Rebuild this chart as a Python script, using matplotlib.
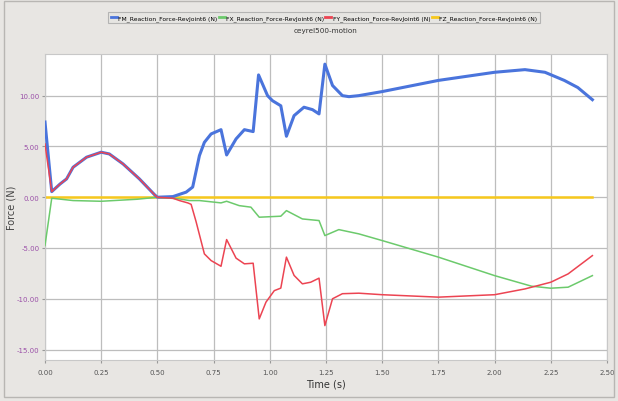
import matplotlib
matplotlib.use("Agg")
import matplotlib.pyplot as plt
from matplotlib.patches import Rectangle

# FM (magnitude) - azul
t_fm = [0.0, 0.03, 0.067, 0.096, 0.125, 0.185, 0.25, 0.286, 0.347, 0.42, 0.488, 0.5,
        0.569, 0.628, 0.657, 0.687, 0.709, 0.739, 0.783, 0.808, 0.85, 0.887, 0.926,
        0.95, 0.99, 1.012, 1.049, 1.074, 1.108, 1.152, 1.19, 1.219, 1.245, 1.279,
        1.323, 1.352, 1.396, 1.5, 1.75, 2.0, 2.135, 2.224, 2.31, 2.37, 2.435]
fm = [7.4, 0.55, 1.3, 1.8, 2.95, 3.94, 4.43, 4.26, 3.28, 1.8, 0.23, 0.0,
      0.06, 0.5, 1.0, 4.1, 5.4, 6.23, 6.65, 4.16, 5.74, 6.65, 6.46,
      12.04, 10.0, 9.5, 9.0, 6.0, 8.03, 8.86, 8.62, 8.2, 13.1, 11.0,
      10.0, 9.9, 10.0, 10.4, 11.5, 12.3, 12.56, 12.3, 11.5, 10.8, 9.6]

# FX - verde
t_fx = [0.0, 0.03, 0.125, 0.25, 0.41, 0.5, 0.598, 0.642, 0.687, 0.783, 0.808, 0.864,
        0.916, 0.953, 1.049, 1.074, 1.145, 1.219, 1.245, 1.307, 1.396, 1.5, 1.75,
        2.0, 2.164, 2.25, 2.327, 2.435]
fx = [-4.76, -0.1, -0.33, -0.4, -0.2, 0.0, -0.17, -0.33, -0.33, -0.56, -0.4, -0.83,
      -0.98, -1.97, -1.87, -1.32, -2.14, -2.3, -3.78, -3.19, -3.61, -4.27, -5.9,
      -7.72, -8.76, -8.96, -8.86, -7.72]

# FY - rojo
t_fy = [0.0, 0.03, 0.067, 0.096, 0.125, 0.185, 0.25, 0.286, 0.347, 0.42, 0.488, 0.5,
        0.569, 0.598, 0.635, 0.65, 0.672, 0.709, 0.739, 0.783, 0.808, 0.85, 0.887,
        0.926, 0.953, 0.983, 1.02, 1.049, 1.074, 1.108, 1.145, 1.182, 1.219, 1.245,
        1.279, 1.323, 1.396, 1.5, 1.75, 2.0, 2.135, 2.25, 2.327, 2.435]
fy = [5.25, 0.55, 1.3, 1.8, 2.95, 3.94, 4.43, 4.26, 3.28, 1.8, 0.23, 0.0,
      -0.1, -0.33, -0.56, -0.7, -2.4, -5.58, -6.24, -6.8, -4.17, -6.0, -6.56,
      -6.5, -11.98, -10.33, -9.2, -8.95, -5.9, -7.7, -8.53, -8.37, -7.97, -12.64,
      -10.0, -9.5, -9.45, -9.6, -9.84, -9.6, -9.03, -8.37, -7.55, -5.75]

# FZ - amarillo
t_fz = [0.0, 2.435]
fz = [0.0, 0.0]

xticks = [0.0, 0.25, 0.5, 0.75, 1.0, 1.25, 1.5, 1.75, 2.0, 2.25, 2.5]
yticks = [-15, -10, -5, 0, 5, 10]

labels = ["FM_Reaction_Force-RevJoint6 (N)", "FX_Reaction_Force-RevJoint6 (N)",
          "FY_Reaction_Force-RevJoint6 (N)", "FZ_Reaction_Force-RevJoint6 (N)"]

fondo = "#e8e6e3"
fig = plt.figure(figsize=(6.18, 4.02), dpi=100, facecolor=fondo)
fig.patches.append(Rectangle((0.007, 0.01), 0.986, 0.985, transform=fig.transFigure,
                             fill=False, edgecolor="#b8b6b3", linewidth=1))
ax = fig.add_axes([0.0728, 0.1027, 0.9094, 0.7605])
ax.set_facecolor("white")

ax.plot(t_fz, fz, color="#f7c81c", linewidth=1.8, label=labels[3], zorder=2)
ax.plot(t_fx, fx, color="#6cca6c", linewidth=1.1, label=labels[1], zorder=3)
ax.plot(t_fm, fm, color="#4a74dc", linewidth=2.2, label=labels[0], zorder=4)
ax.plot(t_fy, fy, color="#ec4452", linewidth=1.1, label=labels[2], zorder=5)

ax.set_xlim(0, 2.49)
ax.set_ylim(-16.0, 14.1)
ax.set_xticks(xticks)
ax.set_xticklabels(["%.2f" % v for v in xticks], fontsize=5, color="#555555")
ax.set_yticks(yticks)
ax.set_yticklabels(["%.2f" % v for v in yticks], fontsize=5, color="#9a4fa8")
ax.tick_params(axis="x", length=2, color="#999999", pad=5)
ax.tick_params(axis="y", length=2, color="#999999", pad=2)
ax.grid(True, color="#bdbdbd", linewidth=0.9)
ax.set_axisbelow(True)
for s in ax.spines.values():
    s.set_color("#c8c8c8")
    s.set_linewidth(0.8)

ax.set_xlabel("Time (s)", fontsize=7, color="#333333", labelpad=2)
ax.set_ylabel("Force (N)", fontsize=7, color="#444444")
ax.yaxis.set_label_coords(-0.05, 0.5)

# leyenda arriba en orden FM, FX, FY, FZ
h, l = ax.get_legend_handles_labels()
orden = [labels.index(x) for x in l]
pares = sorted(zip(orden, h, l))
leg = fig.legend([p[1] for p in pares], [p[2] for p in pares], loc="upper center",
                 bbox_to_anchor=(0.524, 0.975), ncol=4, fontsize=4.3, frameon=True,
                 handlelength=1.0, handletextpad=0.2, columnspacing=0.25,
                 borderpad=0.45, fancybox=False)
leg.get_frame().set_facecolor("#e6e5e2")
leg.get_frame().set_edgecolor("#a8a8a8")
leg.get_frame().set_linewidth(0.8)
for line in leg.get_lines():
    line.set_linewidth(2.0)

fig.text(0.527, 0.922, "ceyrel500-motion", ha="center", va="center", fontsize=5.2,
         color="#333333")

fig.savefig("out.png", dpi=100, facecolor=fondo)
